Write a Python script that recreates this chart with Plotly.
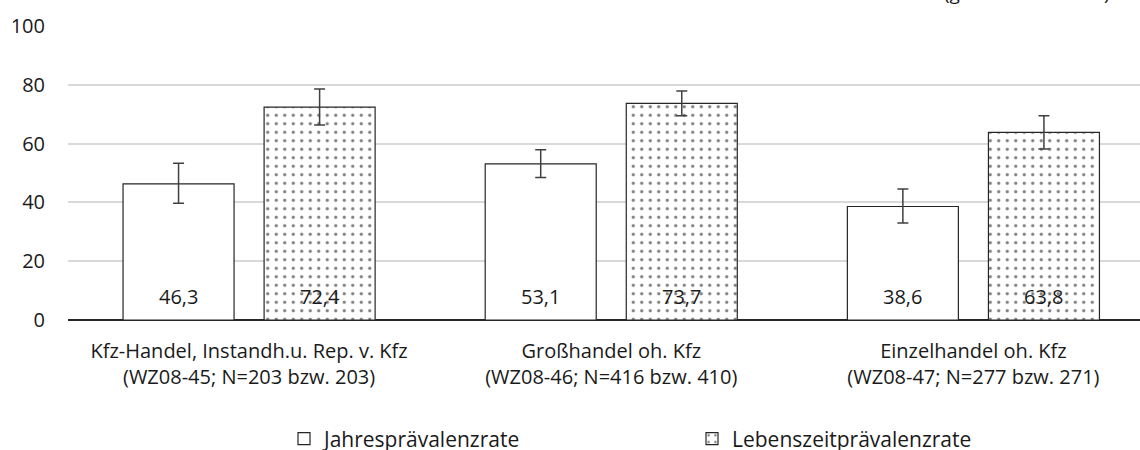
import plotly.graph_objects as go

categories = [
    "Kfz-Handel, Instandh.u. Rep. v. Kfz<br>(WZ08-45; N=203 bzw. 203)",
    "Großhandel oh. Kfz<br>(WZ08-46; N=416 bzw. 410)",
    "Einzelhandel oh. Kfz<br>(WZ08-47; N=277 bzw. 271)",
]
series_names = ["Jahresprävalenzrate", "Lebenszeitprävalenzrate"]
jahres = [46.3, 53.1, 38.6]
jahres_upper = [53.3, 57.9, 44.6]
jahres_lower = [39.7, 48.5, 33.0]
lebens = [72.4, 73.7, 63.8]
lebens_upper = [78.6, 77.9, 69.5]
lebens_lower = [66.3, 69.5, 58.2]
y_ticks = [0, 20, 40, 60, 80, 100]
note_text = "(gewichtete Werte)"

FONT = "Open Sans"
TXT = "#1a1a1a"
W, H = 1140, 450
ML, MT, MB = 68, 26, 130
BARGAP = 0.221
BARGROUPGAP = 0.213

def err(vals, up, lo):
    return dict(
        type="data",
        symmetric=False,
        array=[u - v for u, v in zip(up, vals)],
        arrayminus=[v - l for v, l in zip(vals, lo)],
        color="#404040",
        thickness=1.5,
        width=5.5,
    )

fig = go.Figure()
fig.add_trace(go.Bar(
    name=series_names[0],
    x=categories, y=jahres,
    marker=dict(color="white", line=dict(color="#262626", width=1.2)),
    error_y=err(jahres, jahres_upper, jahres_lower),
))
fig.add_trace(go.Bar(
    name=series_names[1],
    x=categories, y=lebens,
    marker=dict(color="white", line=dict(color="#262626", width=1.2),
                pattern=dict(shape=".", fgcolor="black", bgcolor="white", size=8.5, solidity=0.12)),
    error_y=err(lebens, lebens_upper, lebens_lower),
))

# value labels at the foot of each bar (positions derived from category index and bar gap)
slot = (1 - BARGAP) / 2
for k, vals in enumerate([jahres, lebens]):
    off = (k - 0.5) * slot
    for j, v in enumerate(vals):
        fig.add_annotation(
            x=j + off, y=0, xref="x", yref="y", yanchor="bottom", yshift=8,
            text=f"{v:.1f}".replace(".", ","), showarrow=False,
            font=dict(family=FONT, size=20, color=TXT),
        )

fig.update_layout(
    width=W, height=H,
    margin=dict(l=ML, r=0, t=MT, b=MB, pad=0, autoexpand=False),
    paper_bgcolor="white", plot_bgcolor="white",
    barmode="group", bargap=BARGAP, bargroupgap=BARGROUPGAP,
    font=dict(family=FONT, size=18, color=TXT),
    showlegend=True,
    legend=dict(
        orientation="h", x=0.2015, xanchor="left", y=-0.335, yanchor="top",
        font=dict(family=FONT, size=21, color=TXT),
        itemwidth=30, entrywidth=363, traceorder="normal",
    ),
)
fig.update_xaxes(
    type="category", range=[-0.5, 2.46],
    showline=False, showgrid=False, ticks="", ticklabelstandoff=17,
    tickfont=dict(family=FONT, size=20, color=TXT),
)
fig.update_yaxes(
    range=[0, 100], tickvals=y_ticks,
    showgrid=True, gridcolor="#d9d9d9", gridwidth=1.5,
    zeroline=True, zerolinecolor="#262626", zerolinewidth=1.5,
    showline=False, ticks="", ticklabelstandoff=22,
    tickfont=dict(family=FONT, size=20, color=TXT),
)
fig.add_annotation(
    text=note_text, xref="paper", yref="paper", x=1.0, xanchor="right",
    y=1, yanchor="bottom", yshift=MT - 8, xshift=-28, showarrow=False,
    font=dict(family=FONT, size=19, color=TXT),
)
fig.write_html("out.html", config={"displayModeBar": False},
               post_script="document.body.style.margin='0';")
